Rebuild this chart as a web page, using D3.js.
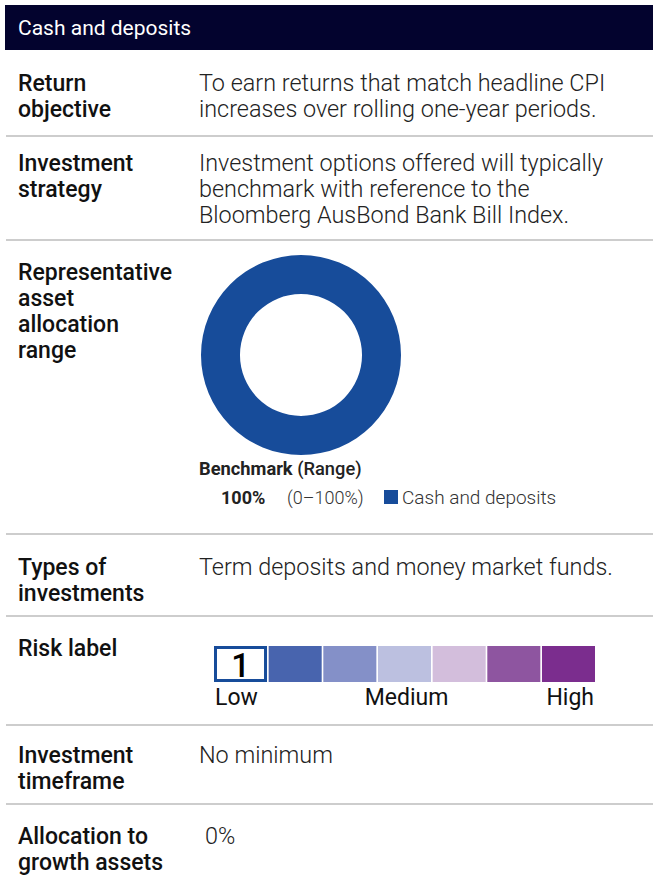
<!DOCTYPE html>
<html>
<head>
<meta charset="utf-8">
<title>Cash and deposits</title>
<script src="https://cdn.jsdelivr.net/npm/d3@7"></script>
<style>
  body { margin: 0; background: #fff; }
  text { font-family: Roboto, "Noto Sans", sans-serif; }
  .label { font-size: 23px; font-weight: 500; fill: #111; }
  .value { font-size: 23.4px; font-weight: 300; fill: #222; }
  .sep { stroke: #bdbdbd; stroke-width: 1.5px; }
</style>
</head>
<body>
<div id="chart"></div>
<script>
var width = 653, height = 885;

// rows of the table
var rowLabels = [
  ["Return", "objective"],
  ["Investment", "strategy"],
  ["Representative", "asset", "allocation", "range"],
  ["Types of", "investments"],
  ["Risk label"],
  ["Investment", "timeframe"],
  ["Allocation to", "growth assets"]
];
var rowValues = [
  ["To earn returns that match headline CPI", "increases over rolling one-year periods."],
  ["Investment options offered will typically", "benchmark with reference to the", "Bloomberg AusBond Bank Bill Index."],
  [],
  ["Term deposits and money market funds."],
  [],
  ["No minimum"],
  ["0%"]
];
var rowTops = [91, 171, 280, 575, 656, 763, 844];
var separators = [136, 240, 534, 616, 725, 804];

// allocation
var assetNames = ["Cash and deposits"];
var assetBenchmark = [100];
var assetRange = ["(0\u2013100%)"];
var assetColors = ["#174c9a"];

// risk scale
var riskLevels = [1, 2, 3, 4, 5, 6, 7];
var riskColors = ["#ffffff", "#4864ae", "#8490c8", "#bcc0e0", "#d3bedc", "#8e55a0", "#7b2d8e"];
var riskBand = 1;
var riskTickLabels = ["Low", "Medium", "High"];

var svg = d3.select("#chart").append("svg")
  .attr("width", width)
  .attr("height", height);

// header
svg.append("rect")
  .attr("x", 5).attr("y", 5)
  .attr("width", width - 5).attr("height", 45)
  .attr("fill", "#03032e");
svg.append("text")
  .attr("x", 18).attr("y", 35)
  .attr("fill", "#fff")
  .style("font-size", "21px")
  .text("Cash and deposits");

// separators
svg.selectAll("line.sep").data(separators).enter()
  .append("line")
  .attr("class", "sep")
  .attr("x1", 6).attr("x2", width)
  .attr("y1", function(d) { return d; })
  .attr("y2", function(d) { return d; });

var lineH = 26;

// labels
rowLabels.forEach(function(lines, i) {
  var t = svg.append("text").attr("class", "label").attr("x", 18).attr("y", rowTops[i]);
  lines.forEach(function(l, j) {
    t.append("tspan").attr("x", 18).attr("y", rowTops[i] + j * lineH).text(l);
  });
});

// values
rowValues.forEach(function(lines, i) {
  var x = (i === 6) ? 205 : 199;
  var t = svg.append("text").attr("class", "value").attr("x", x).attr("y", rowTops[i]);
  lines.forEach(function(l, j) {
    t.append("tspan").attr("x", x).attr("y", rowTops[i] + j * lineH).text(l);
  });
});

// donut
var pie = d3.pie().sort(null).value(function(d) { return d; });
var arc = d3.arc().innerRadius(61).outerRadius(100);
var donut = svg.append("g").attr("transform", "translate(301,355)");
donut.selectAll("path").data(pie(assetBenchmark)).enter()
  .append("path")
  .attr("d", arc)
  .attr("fill", function(d, i) { return assetColors[i]; });

// benchmark legend
var bt = svg.append("text").attr("x", 199).attr("y", 475).style("font-size", "18.3px").attr("fill", "#222");
bt.append("tspan").style("font-weight", 700).text("Benchmark");
bt.append("tspan").style("font-weight", 500).text(" (Range)");

assetNames.forEach(function(name, i) {
  var y = 504;
  svg.append("text").attr("x", 221).attr("y", y)
    .style("font-size", "18px").style("font-weight", 700).attr("fill", "#222")
    .text(assetBenchmark[i] + "%");
  svg.append("text").attr("x", 287).attr("y", y)
    .style("font-size", "18px").style("font-weight", 300).attr("fill", "#333")
    .text(assetRange[i]);
  svg.append("rect").attr("x", 384).attr("y", y - 14)
    .attr("width", 14).attr("height", 14)
    .attr("fill", assetColors[i]);
  svg.append("text").attr("x", 402).attr("y", y)
    .style("font-size", "19px").style("font-weight", 300).attr("fill", "#333")
    .text(name);
});

// risk scale
var rx = d3.scaleBand().domain(riskLevels).range([214, 595]).paddingInner(0.03);
var riskG = svg.append("g");
riskG.selectAll("rect").data(riskLevels).enter()
  .append("rect")
  .attr("x", function(d) { return rx(d); })
  .attr("y", 646)
  .attr("width", rx.bandwidth())
  .attr("height", 36)
  .attr("fill", function(d, i) { return riskColors[i]; });
// highlighted band
riskG.append("rect")
  .attr("x", rx(riskBand) + 1.5).attr("y", 647.5)
  .attr("width", rx.bandwidth() - 3).attr("height", 33)
  .attr("fill", "#fff")
  .attr("stroke", "#174c9a").attr("stroke-width", 3);
riskG.append("text")
  .attr("x", rx(riskBand) + rx.bandwidth() / 2).attr("y", 677)
  .attr("text-anchor", "middle")
  .style("font-size", "33px").style("font-weight", 500).attr("fill", "#000")
  .text(riskBand);

svg.append("text").attr("x", 215).attr("y", 705)
  .style("font-size", "23px").attr("fill", "#111").text(riskTickLabels[0]);
svg.append("text").attr("x", rx(4) + rx.bandwidth() / 2 + 2).attr("y", 705)
  .attr("text-anchor", "middle")
  .style("font-size", "23px").attr("fill", "#111").text(riskTickLabels[1]);
svg.append("text").attr("x", 594).attr("y", 705)
  .attr("text-anchor", "end")
  .style("font-size", "23px").attr("fill", "#111").text(riskTickLabels[2]);
</script>
</body>
</html>
